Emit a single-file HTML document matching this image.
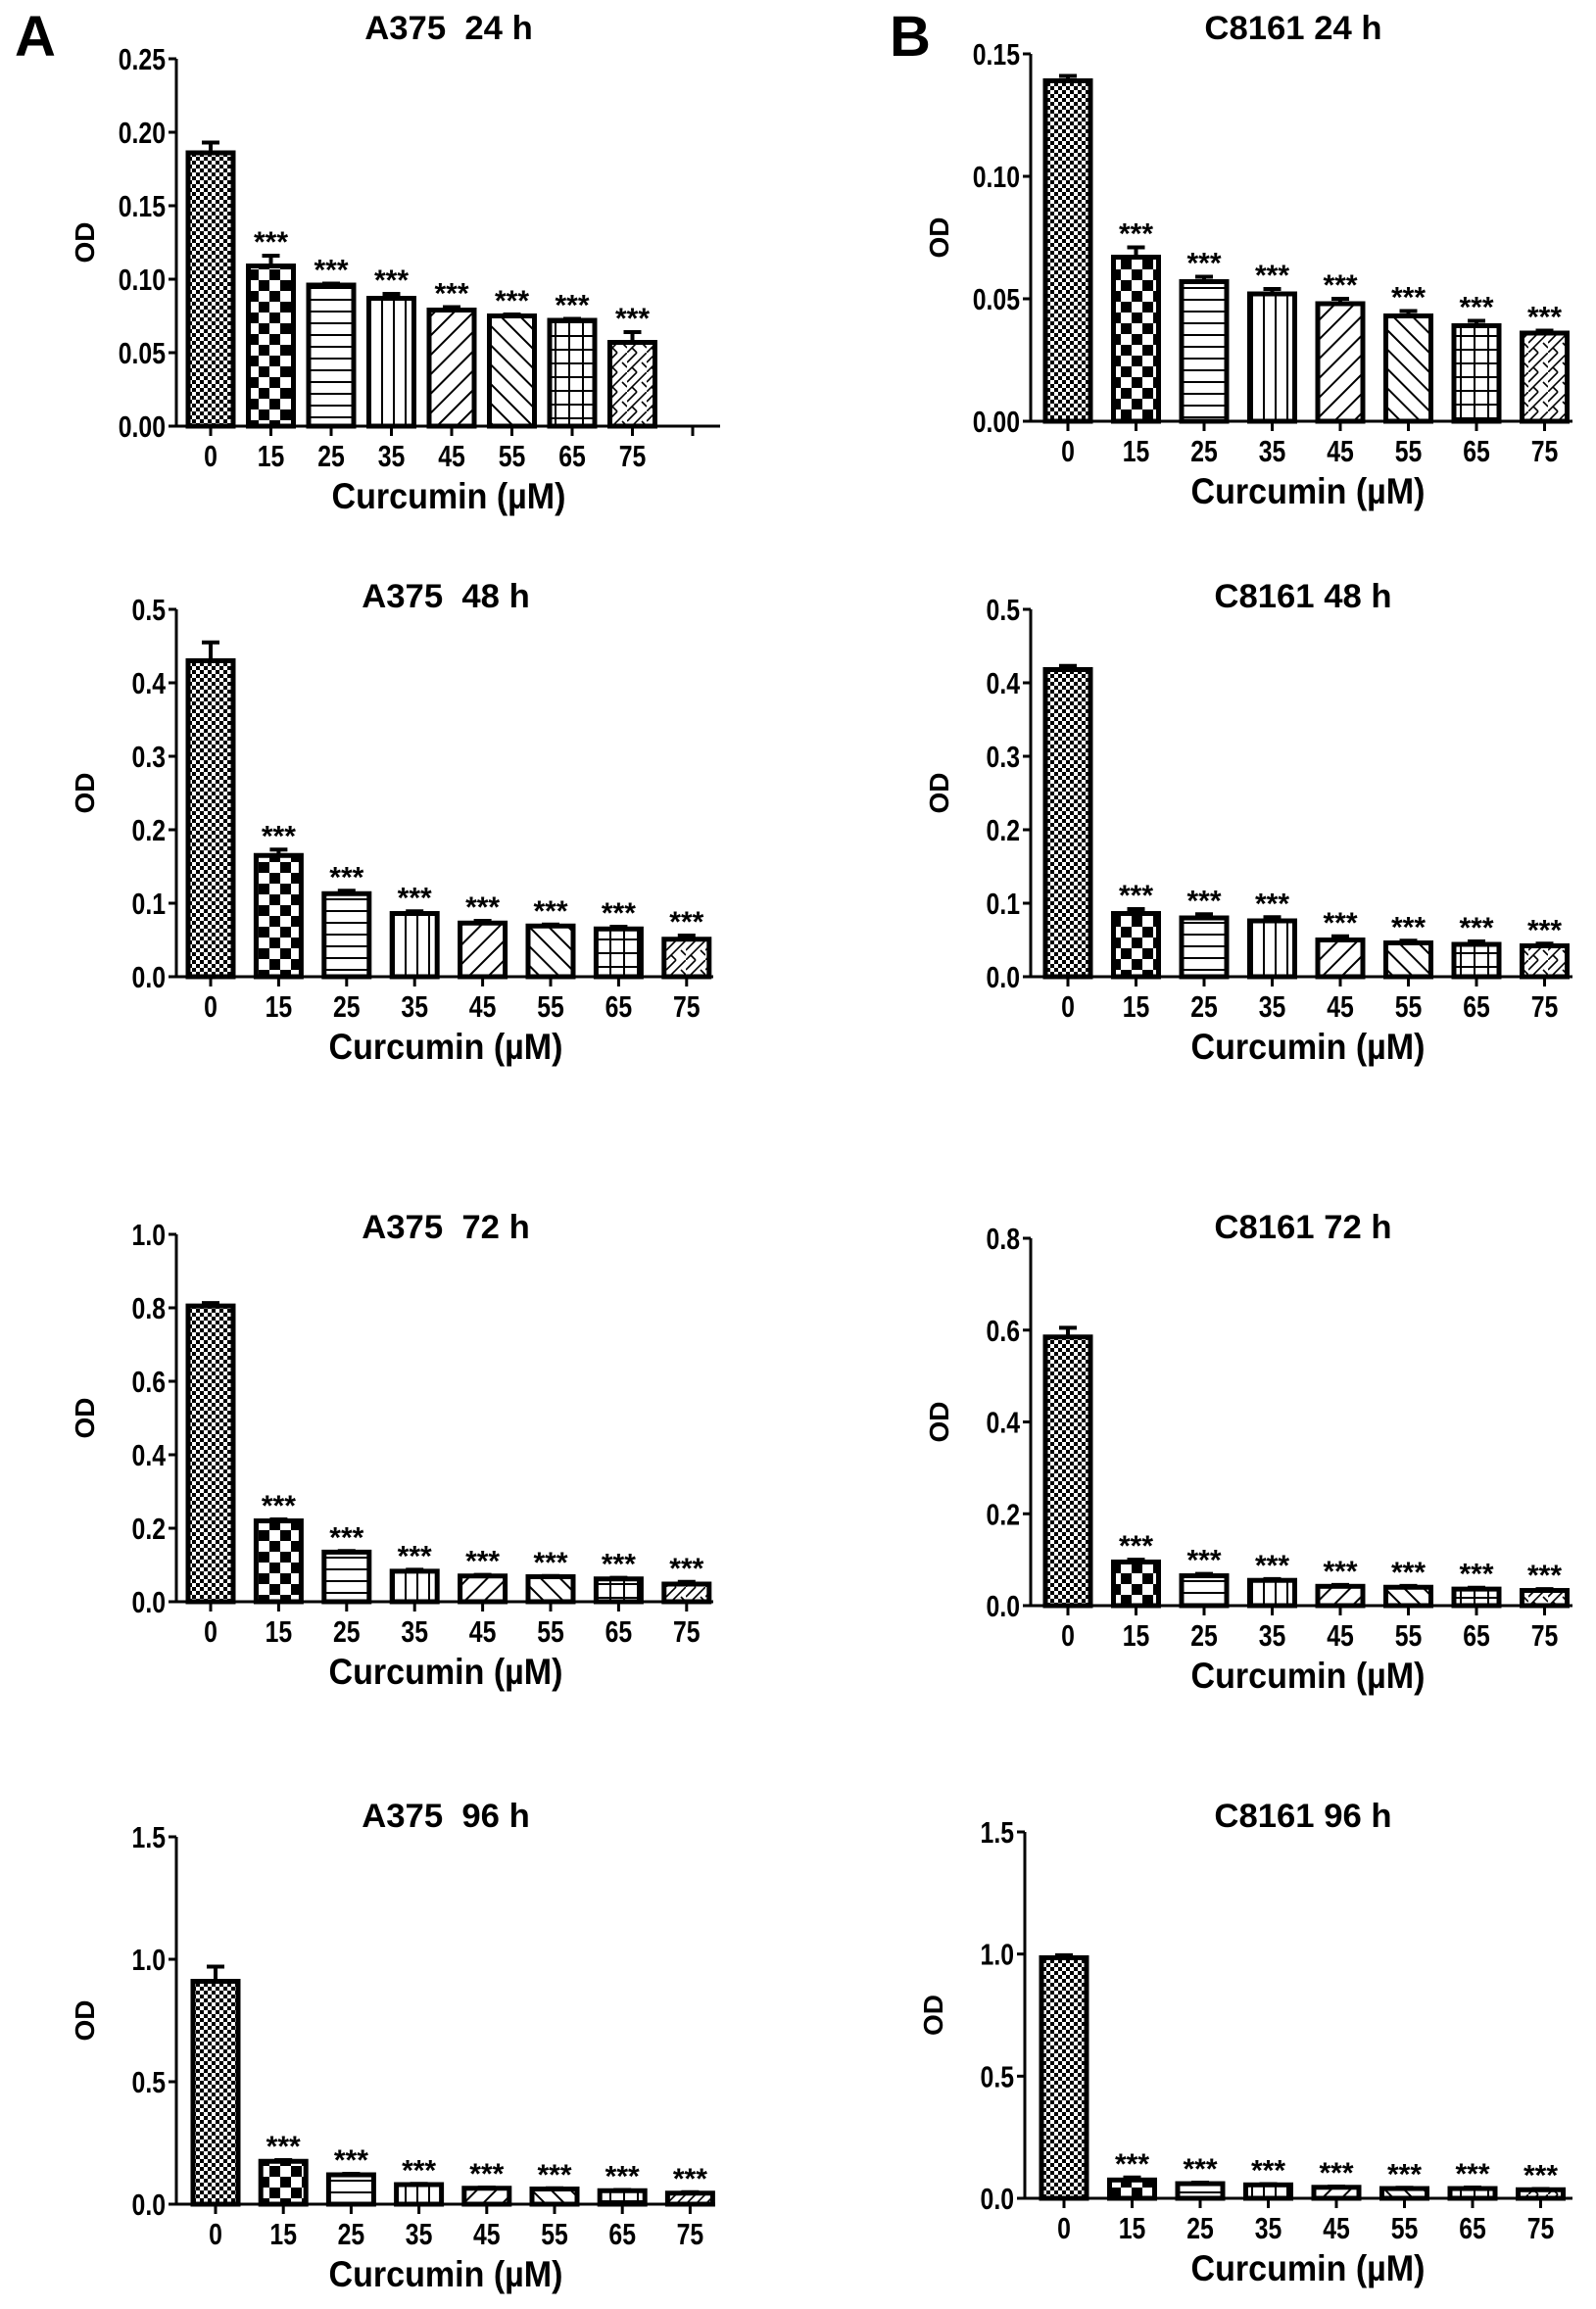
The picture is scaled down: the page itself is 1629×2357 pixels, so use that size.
<!DOCTYPE html>
<html><head><meta charset="utf-8"><style>
html,body{margin:0;padding:0;background:#fff;}
svg{display:block;font-family:"Liberation Sans",Arial,sans-serif;font-weight:bold;}
</style></head><body>
<svg id="fig" width="1629" height="2357" viewBox="0 0 1629 2357" xmlns="http://www.w3.org/2000/svg">
<defs>
<pattern id="p0" width="8" height="8" patternUnits="userSpaceOnUse"><rect width="8" height="8" fill="#fff"/><rect width="4" height="4" fill="#000"/><rect x="4" y="4" width="4" height="4" fill="#000"/></pattern>
<pattern id="p1" width="22" height="22" patternUnits="userSpaceOnUse"><rect width="22" height="22" fill="#fff"/><rect width="11" height="11" fill="#000"/><rect x="11" y="11" width="11" height="11" fill="#000"/></pattern>
<pattern id="p2" width="10" height="12" patternUnits="userSpaceOnUse"><rect width="10" height="12" fill="#fff"/><rect y="5" width="10" height="2" fill="#000"/></pattern>
<pattern id="p3" width="12" height="10" patternUnits="userSpaceOnUse"><rect width="12" height="10" fill="#fff"/><rect x="5" width="2" height="10" fill="#000"/></pattern>
<pattern id="p4" width="14" height="14" patternUnits="userSpaceOnUse" patternTransform="rotate(45)"><rect width="14" height="14" fill="#fff"/><rect x="6" width="2" height="14" fill="#000"/></pattern>
<pattern id="p5" width="14" height="14" patternUnits="userSpaceOnUse" patternTransform="rotate(-45)"><rect width="14" height="14" fill="#fff"/><rect x="6" width="2" height="14" fill="#000"/></pattern>
<pattern id="p6" width="14" height="14" patternUnits="userSpaceOnUse"><rect width="14" height="14" fill="#fff"/><rect x="6" width="2" height="14" fill="#000"/><rect y="6" width="14" height="2" fill="#000"/></pattern>
<pattern id="p7" width="20" height="20" patternUnits="userSpaceOnUse"><rect width="20" height="20" fill="#fff"/><path d="M0 20 L20 0 M0 10 L10 0 M10 20 L5 15 M15 10 L20 15" stroke="#000" stroke-width="1.6" fill="none"/></pattern>
</defs>
<text x="15" y="57" font-size="58">A</text>
<text x="908" y="57" font-size="58">B</text>
</svg>
<script>
const categories = ["0","15","25","35","45","55","65","75"];
const valsA24 = [0.186,0.109,0.096,0.087,0.079,0.075,0.072,0.057];
const errA24  = [0.007,0.007,0.001,0.003,0.002,0.001,0.001,0.007];
const valsA48 = [0.430,0.165,0.113,0.086,0.073,0.069,0.065,0.051];
const errA48  = [0.025,0.008,0.004,0.003,0.003,0.002,0.003,0.005];
const valsA72 = [0.805,0.220,0.135,0.083,0.070,0.068,0.062,0.048];
const errA72  = [0.008,0.004,0.003,0.004,0.003,0.002,0.003,0.006];
const valsA96 = [0.910,0.175,0.120,0.080,0.065,0.062,0.055,0.045];
const errA96  = [0.060,0.005,0.004,0.003,0.003,0.003,0.003,0.004];
const valsB24 = [0.139,0.067,0.057,0.052,0.048,0.043,0.039,0.036];
const errB24  = [0.002,0.004,0.002,0.002,0.002,0.002,0.002,0.001];
const valsB48 = [0.418,0.086,0.080,0.076,0.050,0.046,0.044,0.042];
const errB48  = [0.005,0.006,0.005,0.005,0.005,0.003,0.004,0.003];
const valsB72 = [0.585,0.095,0.065,0.055,0.042,0.040,0.036,0.033];
const errB72  = [0.020,0.005,0.004,0.003,0.003,0.003,0.003,0.003];
const valsB96 = [0.985,0.075,0.060,0.055,0.045,0.040,0.040,0.035];
const errB96  = [0.010,0.010,0.004,0.003,0.003,0.003,0.004,0.003];
const ticksA24 = [0,0.05,0.10,0.15,0.20,0.25];
const tickLabelsA24 = ["0.00","0.05","0.10","0.15","0.20","0.25"];
const ticksA48 = [0,0.1,0.2,0.3,0.4,0.5];
const tickLabelsA48 = ["0.0","0.1","0.2","0.3","0.4","0.5"];
const ticksA72 = [0,0.2,0.4,0.6,0.8,1.0];
const tickLabelsA72 = ["0.0","0.2","0.4","0.6","0.8","1.0"];
const ticks96 = [0,0.5,1.0,1.5];
const tickLabels96 = ["0.0","0.5","1.0","1.5"];
const ticksB24 = [0,0.05,0.10,0.15];
const tickLabelsB24 = ["0.00","0.05","0.10","0.15"];
const ticksB72 = [0,0.2,0.4,0.6,0.8];
const tickLabelsB72 = ["0.0","0.2","0.4","0.6","0.8"];

const NS="http://www.w3.org/2000/svg";
const svg=document.getElementById('fig');
function mk(tag,attrs,parent){const e=document.createElementNS(NS,tag);for(const k in attrs)e.setAttribute(k,attrs[k]);(parent||svg).appendChild(e);return e;}
function txt(x,y,s,size,sx,anchor,parent,rot){
  const t=mk('text',{transform:'translate('+x+','+y+')'+(rot?' rotate('+rot+')':'')+' scale('+sx+',1)','font-size':size,'text-anchor':anchor},parent);
  t.setAttribute('xml:space','preserve');
  t.style.whiteSpace='pre';
  t.textContent=s;return t;
}
const panels=[
 {id:'a375-24h',title:'A375  24 h',vals:valsA24,errs:errA24,ticks:ticksA24,tl:tickLabelsA24,ax:180,top:60,bot:435,x0:215,dx:61.5,xEnd:735,extraTick:true,tx:458,ty:27,cx:458},
 {id:'a375-48h',title:'A375  48 h',vals:valsA48,errs:errA48,ticks:ticksA48,tl:tickLabelsA48,ax:180,top:622,bot:997,x0:215,dx:69.4,xEnd:728,tx:455,ty:607,cx:455},
 {id:'a375-72h',title:'A375  72 h',vals:valsA72,errs:errA72,ticks:ticksA72,tl:tickLabelsA72,ax:180,top:1260,bot:1635,x0:215,dx:69.4,xEnd:728,tx:455,ty:1251,cx:455},
 {id:'a375-96h',title:'A375  96 h',vals:valsA96,errs:errA96,ticks:ticks96,tl:tickLabels96,ax:180,top:1875,bot:2250,x0:220,dx:69.2,xEnd:730,tx:455,ty:1852,cx:455},
 {id:'c8161-24h',title:'C8161 24 h',vals:valsB24,errs:errB24,ticks:ticksB24,tl:tickLabelsB24,ax:1052,top:55,bot:430,x0:1090,dx:69.5,xEnd:1605,tx:1320,ty:27,cx:1335},
 {id:'c8161-48h',title:'C8161 48 h',vals:valsB48,errs:errB48,ticks:ticksA48,tl:tickLabelsA48,ax:1052,top:622,bot:997,x0:1090,dx:69.5,xEnd:1605,tx:1330,ty:607,cx:1335},
 {id:'c8161-72h',title:'C8161 72 h',vals:valsB72,errs:errB72,ticks:ticksB72,tl:tickLabelsB72,ax:1052,top:1264,bot:1639,x0:1090,dx:69.5,xEnd:1605,tx:1330,ty:1251,cx:1335},
 {id:'c8161-96h',title:'C8161 96 h',vals:valsB96,errs:errB96,ticks:ticks96,tl:tickLabels96,ax:1046,top:1870,bot:2244,x0:1086,dx:69.5,xEnd:1605,tx:1330,ty:1852,cx:1335}
];
panels.forEach(p=>{
  const g=mk('g',{});
  
  
  const maxV=p.ticks[p.ticks.length-1];
  const y=v=>p.bot-(v/maxV)*(p.bot-p.top);
  const xc=i=>p.x0+i*p.dx;
  const bw=46;
  const t=txt(p.tx,p.ty+13,p.title,34,1.02,'middle',g);
  
  
  p.vals.forEach((v,i)=>{
    const yt=y(v), ye=y(v+p.errs[i]);
    const e=mk('path',{d:'M'+xc(i)+' '+yt+' V'+ye+' M'+(xc(i)-9)+' '+ye+' H'+(xc(i)+9),stroke:'#000','stroke-width':4,fill:'none'},g);
    
    
    const b=mk('rect',{x:xc(i)-bw/2,y:yt,width:bw,height:p.bot-yt,fill:'url(#p'+i+')',stroke:'#000','stroke-width':5},g);
    
    
    if(i>0){
      const s=txt(xc(i),ye-4,'***',30,1.0,'middle',g);
      
      
    }
  });
  const ya=mk('line',{x1:p.ax,y1:p.top,x2:p.ax,y2:p.bot,stroke:'#000','stroke-width':3},g);
  
  
  const xa=mk('line',{x1:p.ax-7,y1:p.bot,x2:p.xEnd,y2:p.bot,stroke:'#000','stroke-width':3},g);
  
  
  p.ticks.forEach((tv,k)=>{
    mk('line',{x1:p.ax-8,y1:y(tv),x2:p.ax,y2:y(tv),stroke:'#000','stroke-width':3},g);
    const l=txt(p.ax-11,y(tv)+11,p.tl[k],31,0.8,'end',g);
    
    
  });
  categories.forEach((c,i)=>{
    mk('line',{x1:xc(i),y1:p.bot,x2:xc(i),y2:p.bot+10,stroke:'#000','stroke-width':3},g);
    const l=txt(xc(i),p.bot+41,c,31,0.8,'middle',g);
    
    
  });
  if(p.extraTick) mk('line',{x1:xc(8),y1:p.bot,x2:xc(8),y2:p.bot+10,stroke:'#000','stroke-width':3},g);
  const xt=txt(p.cx,p.bot+84,'Curcumin (µM)',37,0.92,'middle',g);
  
  
  const od=txt(p.ax-84,(p.top+p.bot)/2,'OD',28,1,'middle',g,-90);
  
  
});
</script>
</body></html>
